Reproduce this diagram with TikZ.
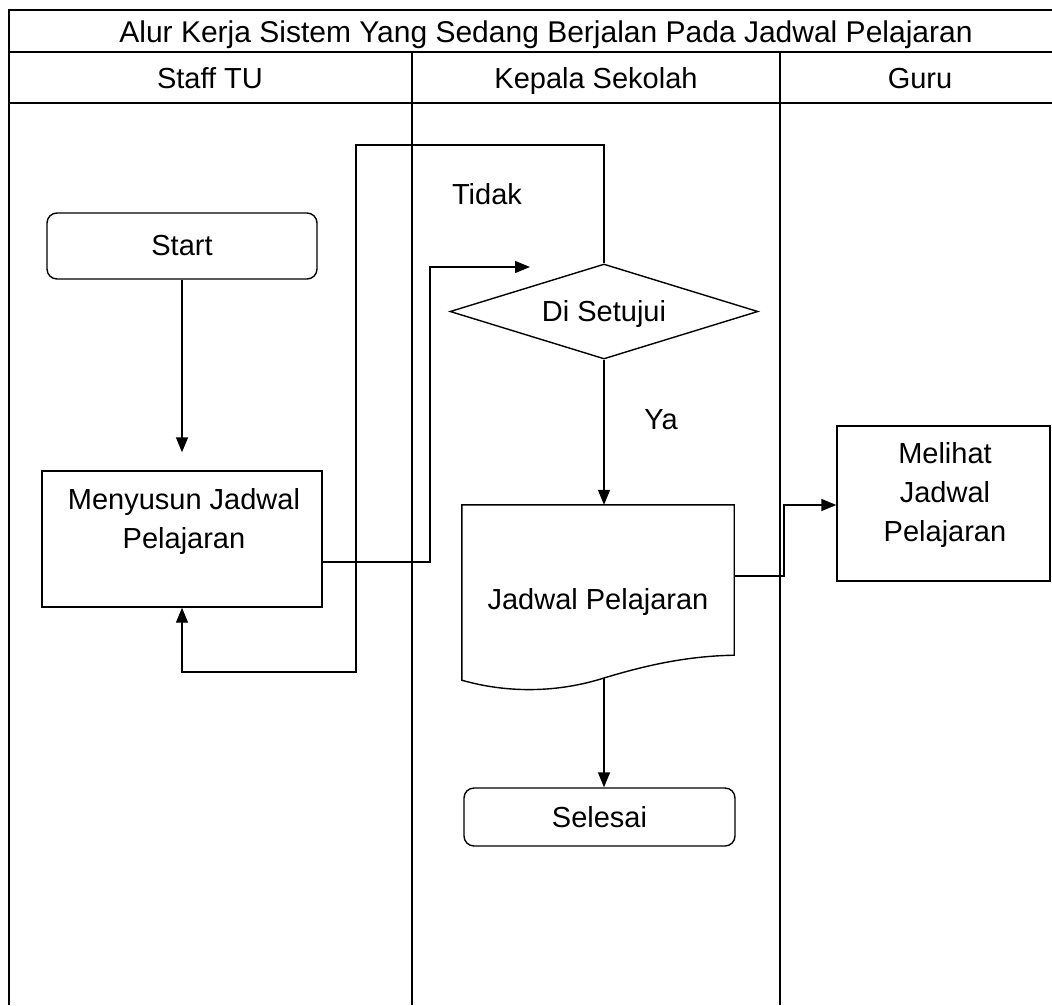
\documentclass[tikz,border=0pt]{standalone}
\usepackage{fontspec}
\setmainfont{Liberation Sans}
\usetikzlibrary{arrows.meta,shapes.geometric,calc}

\tikzset{
  frame/.style={line width=1.8pt},
  conn/.style={line width=1.4pt},
  arr/.style={conn,-{Triangle[length=15pt,width=12pt]}},
  shapebox/.style={draw,line width=1.4pt,inner sep=0pt},
  term/.style={shapebox,rounded corners=10pt},
  lbl/.style={inner sep=0pt,align=center,font=\fontsize{29}{39}\selectfont},
  head/.style={lbl,anchor=base},
}

\begin{document}
\begin{tikzpicture}[x=1pt,y=-1pt]
\useasboundingbox (0,0) rectangle (1052,1005);

% swimlane table
\draw[frame] (9,1005) -- (9,10) -- (1052,10);
\draw[frame] (9,52) -- (1052,52);
\draw[frame] (9,103) -- (1052,103);
\draw[frame] (412,52) -- (412,1005);
\draw[frame] (780,52) -- (780,1005);

\node[head,font=\fontsize{30}{36}\selectfont] (title) at (546,42) {Alur Kerja Sistem Yang Sedang Berjalan Pada Jadwal Pelajaran};
\node[head] (laneA) at (210,88) {Staff TU};
\node[head] (laneB) at (596,88) {Kepala Sekolah};
\node[head] (laneC) at (920,88) {Guru};

% flow nodes
\node[term,minimum width=270,minimum height=66] (start) at (182,246) {};
\node[lbl] (startt) at (182,246) {Start};

\node[shapebox,minimum width=280,minimum height=136] (menyusun) at (182,539) {};
\node[lbl] (menyusunt) at (184,521) {Menyusun Jadwal\\Pelajaran};

\node[shapebox,diamond,aspect=3.24,minimum width=308,minimum height=95] (dia) at (604,311.5) {};
\node[head] (diat) at (604,321) {Di Setujui};

% document shape
\node[minimum width=272,minimum height=150,inner sep=0pt] (doc) at (598,580) {};
\coordinate (wave) at (604,678);
\draw[line width=1.4pt] (doc.north west) -- (doc.north east) -- (doc.south east)
  .. controls (690,656) and (650,664) .. (wave)
  .. controls (560,692) and (510,694) .. ($(doc.south west)+(0,25)$) -- cycle;
\node[head] (doct) at (598,609) {Jadwal Pelajaran};

\node[term,minimum width=271,minimum height=58] (sel) at (599.5,817) {};
\node[lbl] (selt) at (599.5,817) {Selesai};

\node[shapebox,minimum width=213,minimum height=155] (mel) at (943.5,503.5) {};
\node[lbl] (melt) at (945,495) {Melihat\\Jadwal\\Pelajaran};

% labels
\node[lbl] (tidak) at (487,194) {Tidak};
\node[lbl] (ya) at (661,420) {Ya};

% connectors
\draw[arr] (start.south) -- ($(menyusun.north)+(0,-18)$);

\coordinate (jog) at (430,267);
\coordinate (tipA) at (530,267);
\draw[arr] ($(menyusun.east)+(0,23)$) -| (jog) -- (tipA);

\coordinate (loopTop) at (356,145);
\coordinate (loopBot) at (356,672);
\draw[arr] (dia.north) |- (loopTop) -- (loopBot) -| (menyusun.south);

\draw[arr] (dia.south) -- (dia.south |- doc.north);
\draw[arr] (wave) -- (wave |- sel.north);

\coordinate (bend) at (784,505);
\draw[arr] ($(doc.east)+(0,-4)$) -| (bend) -- (bend -| mel.west);
\end{tikzpicture}
\end{document}
